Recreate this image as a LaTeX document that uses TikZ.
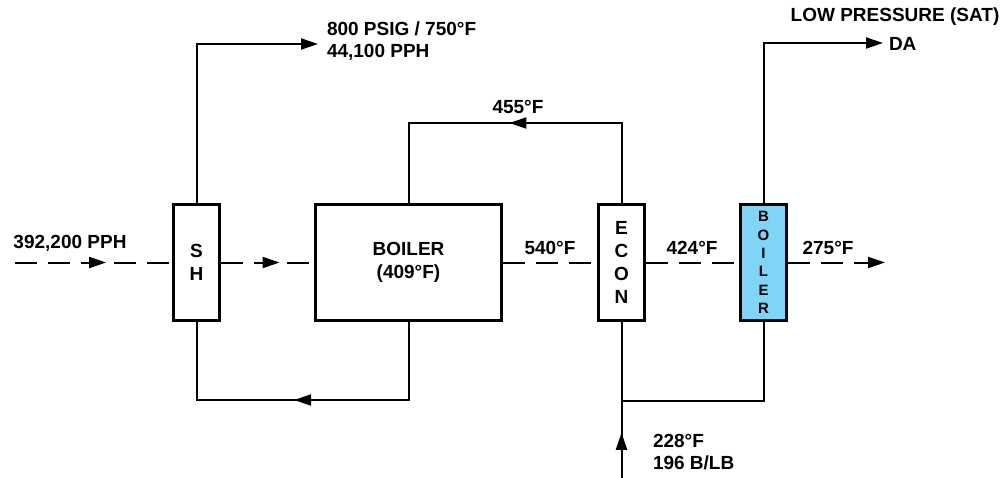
\documentclass[tikz,border=0pt]{standalone}
\usepackage{fontspec}
\setmainfont{Liberation Sans}
\usetikzlibrary{arrows.meta,decorations.markings}
\definecolor{skyblue}{RGB}{128,212,246}
\begin{document}
\begin{tikzpicture}[x=1pt, y=-1pt,
    line width=2pt,
    unit/.style={rectangle, draw, line width=3pt, minimum width=46pt, minimum height=116pt, inner sep=0pt, align=center, font=\bfseries\fontsize{19}{23.5}\selectfont},
    lbl/.style={font=\bfseries\fontsize{19}{21.5}\selectfont, inner sep=0pt, align=left},
    flow/.style={dash pattern=on 22pt off 11pt},
    tip/.style={-{Triangle[length=17pt,width=11pt]}},
    midtip/.style={postaction={decorate}, decoration={markings, mark=at position #1 with {\arrow{Triangle[length=17pt,width=11pt]}}}}
]
    \useasboundingbox (0,0) rectangle (1003,478);

    \node[unit]                        (sh)       at (196.5,262.5) {S\\H};
    \node[unit, minimum width=186pt]   (boiler)   at (408.5,262.5) {BOILER\\(409°F)};
    \node[unit, font=\bfseries\fontsize{19}{23}\selectfont] (econ) at (621.5,262.5) {E\\C\\O\\N};
    \node[unit, fill=skyblue, font=\bfseries\fontsize{15}{18.4}\selectfont] (lpboiler) at (763.5,262.5) {B\\O\\I\\L\\E\\R};

    \coordinate (in)    at (15,262.5);
    \coordinate (out)   at (885,262.5);
    \coordinate (steam) at (318,44);
    \coordinate (da)    at (883,43);
    \coordinate (feed)  at (621.5,478);
    \coordinate (tee)   at (621.5,401);

    \draw[flow, midtip=0.58] (in) -- (sh.west);
    \draw[flow, midtip=0.63] (sh.east) -- (boiler.west);
    \draw[flow] (boiler.east) -- (econ.west);
    \draw[flow] (econ.east) -- (lpboiler.west);
    \draw[flow, tip] (lpboiler.east) -- (out);

    \draw[tip] (sh.north) |- (steam);
    \draw[midtip=0.523] (boiler.south) -- ++(0,78) -| (sh.south);
    \draw[midtip=0.515] (econ.north) -- ++(0,-80) -| (boiler.north);
    \draw[midtip=0.29] (feed) -- (econ.south);
    \draw (lpboiler.south) |- (tee);
    \draw[tip] (lpboiler.north) |- (da);

    \node[lbl] (flowin)  at (70,243)  {392,200 PPH};
    \node[lbl] (t540)    at (550,248) {540°F};
    \node[lbl] (t424)    at (692,248) {424°F};
    \node[lbl] (t275)    at (828,248) {275°F};
    \node[lbl] (t455)    at (518,107) {455°F};
    \node[lbl, anchor=west] (hpsteam) at (326,41)  {800 PSIG / 750°F\\44,100 PPH};
    \node[lbl]              (lpsteam) at (895,17)  {LOW PRESSURE (SAT)};
    \node[lbl, anchor=west] (dalbl)   at (888,44)  {DA};
    \node[lbl, anchor=west] (fwlbl)   at (652,452) {228°F\\196 B/LB};
\end{tikzpicture}
\end{document}
